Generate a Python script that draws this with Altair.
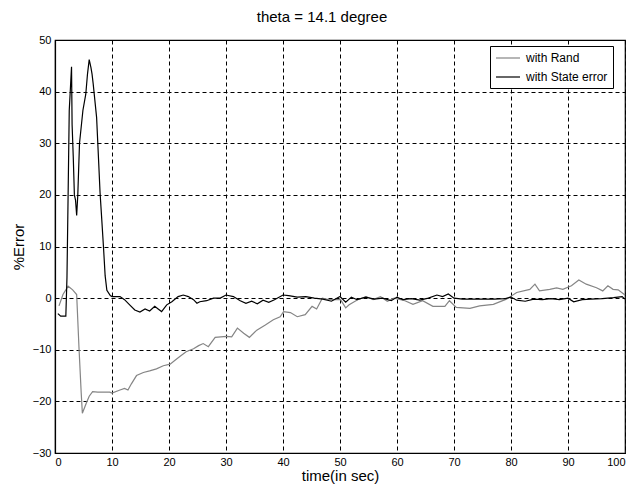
import altair as alt
import pandas as pd

# ---- data ----
rand_x = [0.7, 1.4, 2.3, 3.1, 3.8, 4.2, 4.6, 4.8, 5.5, 6.0, 6.6, 7.5, 8.5, 9.6, 10.0, 11.4, 12.2, 12.8,
          13.4, 14.3, 15.5, 16.6, 17.8, 19.0, 20.2, 21.0, 21.9, 23.0, 24.3, 25.2, 26.0, 26.9, 28.1,
          30.1, 31.0, 32.0, 33.1, 34.1, 35.4, 36.9, 38.3, 39.5, 40.1, 41.3, 42.5, 43.9, 45.1, 45.9,
          46.9, 48.0, 50.1, 51.0, 51.6, 53.1, 54.6, 55.8, 57.1, 58.3, 59.5, 61.4, 62.8, 64.5, 66.3,
          68.4, 69.2, 70.4, 72.8, 74.5, 76.9, 79.2, 81.0, 83.3, 84.2, 85.0, 86.8, 88.0, 89.1, 90.6,
          91.9, 93.2, 95.0, 96.1, 97.0, 97.9, 98.8, 100.0]
rand_y = [-1.5, 0.7, 2.3, 1.6, 0.7, -9.4, -18.4, -22.3, -20.3, -19.0, -18.1, -18.2, -18.2, -18.2, -18.4,
          -17.8, -17.5, -17.8, -16.6, -15.0, -14.4, -14.1, -13.7, -13.1, -12.8, -12.1, -11.3, -10.4,
          -9.8, -9.2, -8.8, -9.4, -7.6, -7.4, -7.5, -5.8, -6.8, -7.6, -6.2, -5.2, -4.2, -3.6, -2.6,
          -2.8, -3.6, -3.2, -1.6, -2.1, 0.0, -0.3, -0.3, -1.9, -1.3, -0.3, 0.3, -0.3, 0.3, -0.6, 0.0,
          -0.5, -1.2, -0.5, -1.6, -1.6, -0.5, -1.8, -2.0, -1.5, -1.2, -0.2, 1.1, 1.7, 2.7, 1.4, 1.7,
          2.0, 1.7, 2.4, 3.5, 2.7, 2.0, 1.4, 2.4, 1.7, 1.6, 0.6]

state_x = [0.5, 1.0, 1.9, 2.1, 2.3, 2.5, 2.9, 3.0, 3.2, 3.4, 3.6, 3.8, 4.0, 4.3, 4.9, 5.4, 5.7, 6.0,
           6.3, 6.5, 6.7, 7.3, 7.7, 7.9, 8.2, 8.5, 8.8, 9.1, 9.7, 10.0, 11.4, 12.2, 13.1, 14.0, 14.9,
           15.8, 16.6, 17.5, 18.1, 18.7, 19.6, 20.5, 21.6, 22.5, 23.4, 24.3, 24.9, 25.4, 26.6, 27.8,
           29.0, 30.0, 31.3, 32.5, 33.5, 34.5, 35.5, 36.5, 37.5, 38.5, 40.0, 41.0, 42.5, 44.0, 45.5,
           47.0, 48.5, 50.0, 51.0, 52.0, 53.0, 54.5, 56.0, 57.5, 59.0, 60.0, 61.0, 62.5, 64.0, 65.5,
           67.0, 68.0, 69.0, 70.0, 71.5, 73.0, 75.0, 77.0, 79.0, 80.0, 81.0, 82.5, 84.0, 85.5, 87.0,
           88.5, 90.0, 91.0, 92.5, 94.0, 96.0, 98.0, 99.5, 100.0]
state_y = [-3.0, -3.5, -3.5, 4.0, 20.0, 36.4, 44.8, 33.6, 27.5, 20.0, 19.0, 16.0, 20.0, 30.0, 36.4,
           39.5, 43.4, 46.2, 44.7, 43.4, 41.5, 35.0, 25.4, 20.5, 15.3, 10.0, 4.3, 1.5, 0.5, 0.3, 0.3,
           -0.3, -1.3, -2.3, -2.7, -2.1, -2.5, -1.6, -2.1, -2.6, -1.3, -0.7, 0.3, 0.6, 0.3, -0.3,
           -1.0, -0.7, -0.5, 0.0, 0.0, 0.6, 0.3, -0.5, -1.0, -0.6, -1.1, -0.4, -0.8, -0.3, 0.6, 0.5,
           0.2, 0.3, 0.0, -0.2, -0.6, 0.3, -0.8, 0.2, -0.3, 0.2, -0.2, 0.0, -0.5, 0.2, -0.3, -0.1,
           -0.4, 0.0, 0.6, 0.3, 0.8, 0.0, -0.2, -0.2, -0.2, -0.2, -0.1, 0.2, -0.4, -0.6, -0.2, -0.3,
           -0.1, -0.3, 0.0, -0.7, -0.3, -0.2, -0.1, 0.1, 0.3, -0.2]

series_names = ["with Rand", "with State error"]
x_ticks = list(range(0, 101, 10))
y_ticks = list(range(-30, 51, 10))

df = pd.concat([
    pd.DataFrame({"t": rand_x, "err": rand_y, "series": series_names[0]}),
    pd.DataFrame({"t": state_x, "err": state_y, "series": series_names[1]}),
])

FONT = "Liberation Sans"

chart = alt.Chart(df).mark_line(strokeWidth=1.2).encode(
    x=alt.X("t:Q", scale=alt.Scale(domain=[0, 100], nice=False),
            axis=alt.Axis(values=x_ticks, title="time(in sec)", format="d")),
    y=alt.Y("err:Q", scale=alt.Scale(domain=[-30, 50], nice=False),
            axis=alt.Axis(values=y_ticks, title="%Error", format="d")),
    color=alt.Color("series:N",
                    scale=alt.Scale(domain=series_names, range=["#858585", "#000000"]),
                    legend=alt.Legend(title=None, orient="none", legendX=435, legendY=6,
                                      symbolType="M-1,0H3", symbolSize=144, symbolStrokeWidth=1.2,
                                      strokeColor="black", fillColor="white", padding=5,
                                      labelFont=FONT, labelFontSize=12, labelColor="black",
                                      rowPadding=6, labelOffset=17)),
    order=alt.Order("t:Q"),
).properties(
    width=570, height=413,
    title=alt.TitleParams("theta = 14.1 degree", font=FONT, fontSize=15, fontWeight="normal",
                          color="black", anchor="middle", dx=-18, offset=9),
    autosize=alt.AutoSizeParams(type="none"),
    padding={"left": 47, "top": 32, "right": 2, "bottom": 31},
).configure_view(
    stroke="black", strokeWidth=1.2
).configure_axis(
    grid=True, gridColor="black", gridDash=[4, 3], gridOpacity=1, gridWidth=1,
    domain=True, domainColor="black", domainWidth=1.2,
    ticks=False, labelFont=FONT, labelFontSize=11, labelColor="black",
    titleFont=FONT, titleFontSize=15, titleFontWeight="normal", titleColor="black",
    labelPadding=3,
).configure_axisX(
    titlePadding=1
).configure_axisY(
    titlePadding=6, labelPadding=4
)

chart.save("out.html", embed_options={"renderer": "svg", "actions": False})
